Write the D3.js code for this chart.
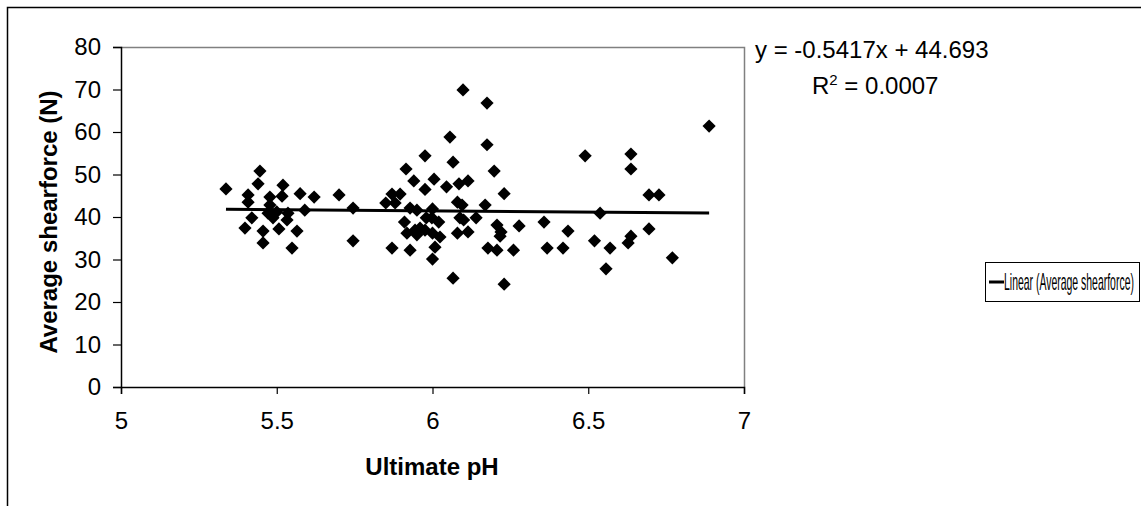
<!DOCTYPE html>
<html><head><meta charset="utf-8">
<script src="https://cdn.jsdelivr.net/npm/d3@7"></script>
<style>
body{margin:0;background:#fff}
svg{display:block}
text{font-family:Arial,"Liberation Sans",sans-serif}
</style>
</head><body>
<svg id="c" width="1141" height="506"></svg>
<script>
// ---- data ----
const phValues = [
  5.337,5.446,5.44,5.52,5.408,5.408,5.478,5.517,5.575,5.478,5.472,5.50,5.488,5.536,5.533,5.42,5.398,5.456,5.507,5.565,5.456,5.549,
  5.62,5.70,5.87,5.896,5.85,5.88,5.59,5.745,5.928,5.95,6.0,5.998,6.02,6.08,6.095,6.169,6.088,6.10,6.14,6.23,6.207,
  5.91,5.918,5.944,5.95,5.976,6.0,6.024,6.08,6.114,5.745,5.87,5.928,6.008,6.0,6.066,6.178,6.207,6.23,
  5.98,5.96,6.217,6.22,6.278,6.358,6.26,
  6.098,6.175,6.056,6.175,5.976,6.066,5.915,6.198,5.94,6.005,5.976,6.045,6.085,6.114,
  6.49,6.637,6.637,6.888,6.435,6.368,6.419,6.52,6.57,6.557,6.538,6.637,6.628,6.695,6.727,6.695,6.77
];
const shearValues = [
  46.6,50.8,47.8,47.5,45.2,43.5,44.7,44.9,45.5,42.8,40.9,41.2,39.8,40.9,39.3,39.8,37.4,36.7,37.2,36.7,33.9,32.7,
  44.7,45.2,45.4,45.4,43.3,43.3,41.6,42.1,42.1,41.6,41.9,39.8,38.8,43.5,42.8,42.8,39.8,39.3,39.8,45.5,38.1,
  38.8,36.2,36.9,35.8,36.9,36.2,35.3,36.2,36.5,34.4,32.7,32.2,32.9,30.1,25.6,32.7,32.2,24.2,
  39.8,37.4,35.5,36.5,37.9,38.8,32.2,
  69.9,66.8,58.8,57.0,54.4,52.9,51.3,50.8,48.5,48.9,46.5,47.1,47.8,48.5,
  54.4,54.8,51.3,61.4,36.7,32.7,32.7,34.4,32.7,27.8,40.9,35.5,33.9,45.2,45.2,37.2,30.4
];
const xTicks = [5, 5.5, 6, 6.5, 7];
const yTicks = [0, 10, 20, 30, 40, 50, 60, 70, 80];
const trendSlope = -0.5417;
const trendIntercept = 44.693;
const equationText = "y = -0.5417x + 44.693";
const r2Value = "0.0007";
const xTitle = "Ultimate pH";
const yTitle = "Average shearforce (N)";
const legendLabel = "Linear (Average shearforce)";

// ---- layout ----
const svg = d3.select("#c");
const L = 121, R = 744, T = 47, B = 387;
const x = d3.scaleLinear().domain([5, 7]).range([L, R]);
const y = d3.scaleLinear().domain([0, 80]).range([B, T]);
const FS = 24;

// outer chart border (partly cropped)
svg.append("path").attr("d", "M7.5,520 V7.5 H1150").attr("fill", "none").attr("stroke", "#000").attr("stroke-width", 1.5);

// plot area frame (top / right grey)
svg.append("path").attr("d", `M${L},${T+0.5} H${R+0.5} V${B}`).attr("fill", "none").attr("stroke", "#808080").attr("stroke-width", 1.5);

// axes
const yAxis = svg.append("g").attr("transform", `translate(${L},0)`)
  .call(d3.axisLeft(y).tickValues(yTicks).tickSize(8).tickPadding(12).tickFormat(d3.format("d")));
const xAxis = svg.append("g").attr("transform", `translate(0,${B})`)
  .call(d3.axisBottom(x).tickValues(xTicks).tickSize(7).tickPadding(18).tickFormat(d => String(d)));
[yAxis, xAxis].forEach(g => {
  g.select(".domain").attr("stroke", "#000").attr("stroke-width", 1.5);
  g.selectAll(".tick line").attr("stroke", "#000").attr("stroke-width", 1.2);
  g.selectAll(".tick text").attr("fill", "#000").style("font-size", FS + "px")
    .style("font-family", "Arial, 'Liberation Sans', sans-serif");
});

// points
const data = phValues.map((p, i) => ({ p, s: shearValues[i] }));
const h = 6.6;
svg.append("g").selectAll("path").data(data).join("path")
  .attr("d", d => {
    const cx = x(d.p), cy = y(d.s);
    return `M${cx},${cy-h} L${cx+h},${cy} L${cx},${cy+h} L${cx-h},${cy} Z`;
  })
  .attr("fill", "#000");

// trend line
const xmin = d3.min(phValues), xmax = d3.max(phValues);
svg.append("line")
  .attr("x1", x(xmin)).attr("y1", y(trendSlope * xmin + trendIntercept))
  .attr("x2", x(xmax)).attr("y2", y(trendSlope * xmax + trendIntercept))
  .attr("stroke", "#000").attr("stroke-width", 3);

// axis titles
svg.append("text").attr("x", (L + R) / 2 - 0.5).attr("y", 475)
  .attr("text-anchor", "middle").style("font-size", FS + "px").style("font-weight", "bold").text(xTitle);
svg.append("text").attr("transform", `translate(57,222) rotate(-90)`)
  .attr("text-anchor", "middle").style("font-size", FS + "px").style("font-weight", "bold").text(yTitle);

// equation
svg.append("text").attr("x", 755).attr("y", 58).style("font-size", FS + "px").text(equationText);
const r2 = svg.append("text").attr("x", 812).attr("y", 94).style("font-size", FS + "px");
r2.append("tspan").text("R");
r2.append("tspan").attr("dy", -9).style("font-size", "15px").text("2");
r2.append("tspan").attr("dy", 9).text(" = " + r2Value);

// legend
const lg = svg.append("g").attr("transform", "translate(985,262)");
lg.append("rect").attr("x", 0.5).attr("y", 0.5).attr("width", 154).attr("height", 39)
  .attr("fill", "#fff").attr("stroke", "#000").attr("stroke-width", 1);
lg.append("line").attr("x1", 4).attr("x2", 19).attr("y1", 20).attr("y2", 20).attr("stroke", "#000").attr("stroke-width", 3);
const lt = lg.append("text").attr("x", 0).attr("y", 0).style("font-size", "24px").text(legendLabel);
const natural = lt.node().getComputedTextLength() || 299;
lt.attr("transform", `translate(19,28) scale(${130 / natural},1)`);
</script>
</body></html>
